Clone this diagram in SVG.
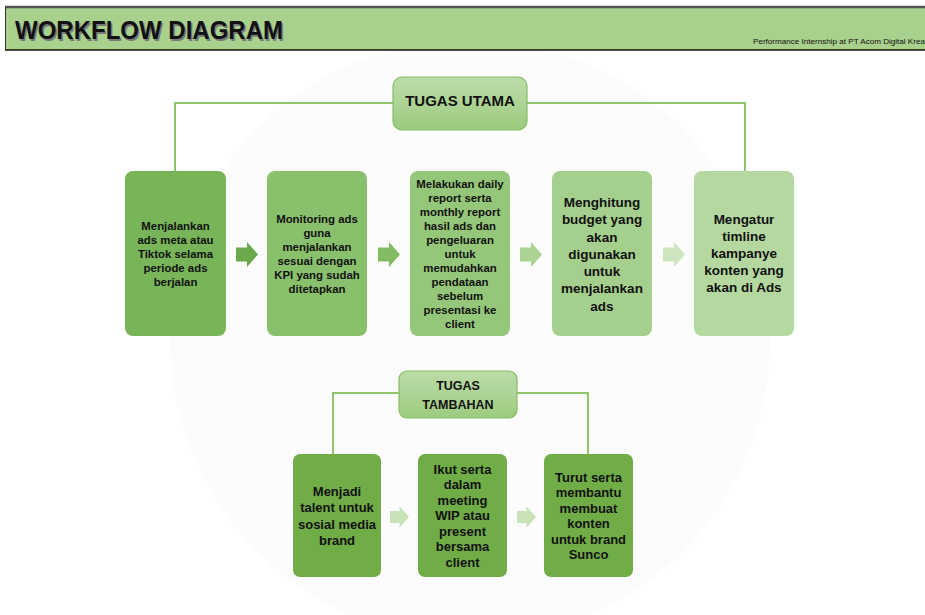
<svg xmlns="http://www.w3.org/2000/svg" width="925" height="615" viewBox="0 0 925 615">
<defs>
<linearGradient id="hdrGrad" x1="0" y1="0" x2="0" y2="1">
<stop offset="0" stop-color="#bcdca8"/>
<stop offset="1" stop-color="#9ccb7f"/>
</linearGradient>
<symbol id="arr" viewBox="0 0 22 25" overflow="visible">
<path d="M0 5.5 H11 V0 L22 12.5 L11 25 V19.5 H0 Z"/>
</symbol>
</defs>
<style>
.t{font-family:"Liberation Sans",Arial,sans-serif;font-weight:bold;fill:#111;text-anchor:middle}
.s{font-size:11.4px}
.m{font-size:13px}
.l{font-size:13.5px}
.ln{stroke:#92c46f;stroke-width:2;fill:none}
.hdr{stroke:#86bd64;stroke-width:1.2;fill:url(#hdrGrad)}
</style>
<rect width="925" height="615" fill="#ffffff"/>
<circle cx="470" cy="340" r="300" fill="#f9faf9" opacity="0.5"/>

<g id="header">
<rect x="5" y="7" width="925" height="43" fill="#a9d18e"/>
<line x1="5" y1="7" x2="925" y2="7" stroke="#555" stroke-width="2.5"/>
<line x1="5" y1="50" x2="925" y2="50" stroke="#111" stroke-width="1.5"/>
<line x1="5.5" y1="7" x2="5.5" y2="50" stroke="#333" stroke-width="1"/>
<text x="16.5" y="40.5" font-family="Liberation Sans,Arial,sans-serif" font-weight="bold" font-size="26" fill="#7a7a7a" textLength="268" lengthAdjust="spacingAndGlyphs">WORKFLOW DIAGRAM</text>
<text x="15" y="39" font-family="Liberation Sans,Arial,sans-serif" font-weight="bold" font-size="26" fill="#111" textLength="268" lengthAdjust="spacingAndGlyphs">WORKFLOW DIAGRAM</text>
<text x="753" y="44" font-family="Liberation Sans,Arial,sans-serif" font-size="7.5" fill="#111" textLength="176" lengthAdjust="spacingAndGlyphs">Performance Internship at PT Acom Digital Kreas</text>
</g>

<g id="connectors">
<path class="ln" d="M175 172 V103 H393"/>
<path class="ln" d="M527 103 H745 V172"/>
<path class="ln" d="M333 455 V393 H399"/>
<path class="ln" d="M517 393 H588 V455"/>
<use href="#arr" x="236" y="242" width="22" height="25" fill="#6aa84a"/>
<use href="#arr" x="378" y="242" width="22" height="25" fill="#82bc62"/>
<use href="#arr" x="520" y="242" width="22" height="25" fill="#a9d293"/>
<use href="#arr" x="663" y="242" width="22" height="25" fill="#cde4c1"/>
<use href="#arr" x="390" y="506" width="19" height="22" fill="#c9e2b9"/>
<use href="#arr" x="517" y="506" width="19" height="22" fill="#c9e2b9"/>
</g>

<g id="tugas-utama">
<rect class="hdr" x="393" y="77" width="134" height="53" rx="9"/>
<text class="t" x="460" y="106" font-size="15">TUGAS UTAMA</text>
</g>

<g id="n1">
<rect x="125" y="171" width="101" height="165" rx="8" fill="#78b558"/>
<text class="t s"><tspan x="175.5" y="230">Menjalankan</tspan><tspan x="175.5" y="244">ads meta atau</tspan><tspan x="175.5" y="258">Tiktok selama</tspan><tspan x="175.5" y="272">periode ads</tspan><tspan x="175.5" y="286">berjalan</tspan></text>
</g>

<g id="n2">
<rect x="267" y="171" width="100" height="165" rx="8" fill="#89c06b"/>
<text class="t s"><tspan x="317" y="223">Monitoring ads</tspan><tspan x="317" y="237">guna</tspan><tspan x="317" y="251">menjalankan</tspan><tspan x="317" y="265">sesuai dengan</tspan><tspan x="317" y="279">KPI yang sudah</tspan><tspan x="317" y="293">ditetapkan</tspan></text>
</g>

<g id="n3">
<rect x="410" y="171" width="100" height="165" rx="8" fill="#95c77a"/>
<text class="t s"><tspan x="460" y="188">Melakukan daily</tspan><tspan x="460" y="202">report serta</tspan><tspan x="460" y="216">monthly report</tspan><tspan x="460" y="230">hasil ads dan</tspan><tspan x="460" y="244">pengeluaran</tspan><tspan x="460" y="258">untuk</tspan><tspan x="460" y="272">memudahkan</tspan><tspan x="460" y="286">pendataan</tspan><tspan x="460" y="300">sebelum</tspan><tspan x="460" y="314">presentasi ke</tspan><tspan x="460" y="328">client</tspan></text>
</g>

<g id="n4">
<rect x="552" y="171" width="100" height="165" rx="8" fill="#a5cf8d"/>
<text class="t l"><tspan x="602" y="207">Menghitung</tspan><tspan x="602" y="224">budget yang</tspan><tspan x="602" y="241.5">akan</tspan><tspan x="602" y="258.5">digunakan</tspan><tspan x="602" y="276">untuk</tspan><tspan x="602" y="293">menjalankan</tspan><tspan x="602" y="310.5">ads</tspan></text>
</g>

<g id="n5">
<rect x="694" y="171" width="100" height="165" rx="8" fill="#b4d8a0"/>
<text class="t l"><tspan x="744" y="224">Mengatur</tspan><tspan x="744" y="241">timline</tspan><tspan x="744" y="258">kampanye</tspan><tspan x="744" y="275">konten yang</tspan><tspan x="744" y="292">akan di Ads</tspan></text>
</g>

<g id="tugas-tambahan">
<rect class="hdr" x="399" y="371" width="118" height="47" rx="8"/>
<text class="t" font-size="12.5"><tspan x="458" y="390">TUGAS</tspan><tspan x="458" y="409">TAMBAHAN</tspan></text>
</g>

<g id="b1">
<rect x="293" y="454" width="88" height="123" rx="7" fill="#70ad47"/>
<text class="t m"><tspan x="337" y="496">Menjadi</tspan><tspan x="337" y="512">talent untuk</tspan><tspan x="337" y="528.5">sosial media</tspan><tspan x="337" y="545">brand</tspan></text>
</g>

<g id="b2">
<rect x="418" y="454" width="89" height="123" rx="7" fill="#70ad47"/>
<text class="t m"><tspan x="462.5" y="473.5">Ikut serta</tspan><tspan x="462.5" y="489">dalam</tspan><tspan x="462.5" y="504.5">meeting</tspan><tspan x="462.5" y="520">WIP atau</tspan><tspan x="462.5" y="535.5">present</tspan><tspan x="462.5" y="551">bersama</tspan><tspan x="462.5" y="566.5">client</tspan></text>
</g>

<g id="b3">
<rect x="544" y="454" width="89" height="123" rx="7" fill="#70ad47"/>
<text class="t m"><tspan x="588.5" y="481.5">Turut serta</tspan><tspan x="588.5" y="497">membantu</tspan><tspan x="588.5" y="512.5">membuat</tspan><tspan x="588.5" y="528">konten</tspan><tspan x="588.5" y="543.5">untuk brand</tspan><tspan x="588.5" y="559">Sunco</tspan></text>
</g>
</svg>
